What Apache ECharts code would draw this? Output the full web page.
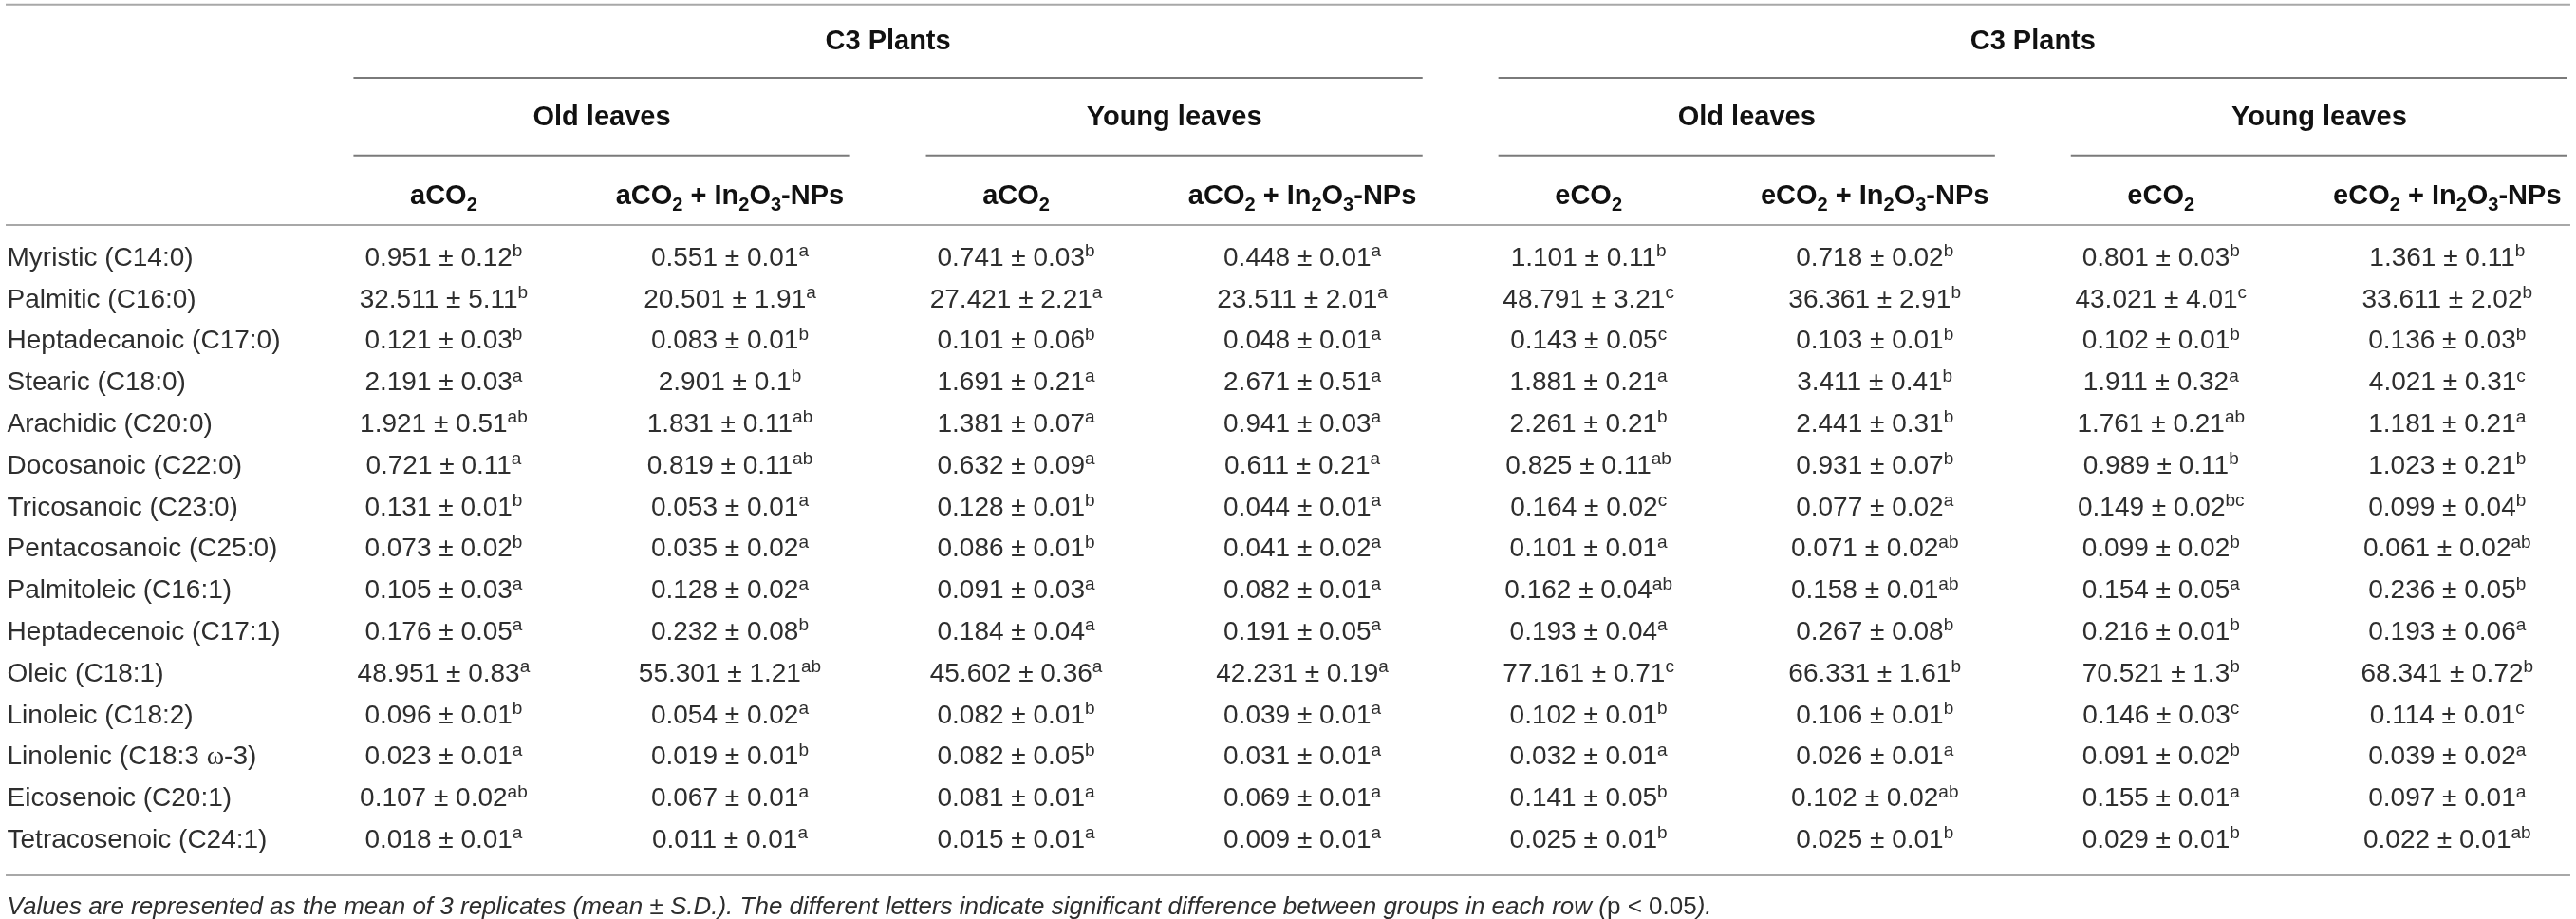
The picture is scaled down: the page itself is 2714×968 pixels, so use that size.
<!DOCTYPE html>
<html>
<head>
<meta charset="utf-8">
<script src="https://cdn.jsdelivr.net/npm/echarts@6/dist/echarts.min.js"></script>
<style>
  html, body { margin: 0; background: #fff; }
  #main { width: 2714px; height: 968px; }
</style>
</head>
<body>
<div id="main"></div>
<script>
const rowNames = [
  'Myristic (C14:0)', 'Palmitic (C16:0)', 'Heptadecanoic (C17:0)', 'Stearic (C18:0)',
  'Arachidic (C20:0)', 'Docosanoic (C22:0)', 'Tricosanoic (C23:0)', 'Pentacosanoic (C25:0)',
  'Palmitoleic (C16:1)', 'Heptadecenoic (C17:1)', 'Oleic (C18:1)', 'Linoleic (C18:2)',
  'Linolenic (C18:3 {w|ω}-3)', 'Eicosenoic (C20:1)', 'Tetracosenoic (C24:1)'
];
const colHeads = [
  'aCO2', 'aCO2 + In2O3-NPs', 'aCO2', 'aCO2 + In2O3-NPs',
  'eCO2', 'eCO2 + In2O3-NPs', 'eCO2', 'eCO2 + In2O3-NPs'
];
const plantGroups = ['C3 Plants', 'C3 Plants'];
const leafGroups = ['Old leaves', 'Young leaves', 'Old leaves', 'Young leaves'];
const footNote = 'Values are represented as the mean of 3 replicates (mean ± S.D.). The different letters indicate significant difference between groups in each row ({u|p} {u|<} {u|0.05}).';

// [mean, sd, letters]
const oldA = [
  [0.951, 0.12, 'b'], [32.511, 5.11, 'b'], [0.121, 0.03, 'b'], [2.191, 0.03, 'a'],
  [1.921, 0.51, 'ab'], [0.721, 0.11, 'a'], [0.131, 0.01, 'b'], [0.073, 0.02, 'b'],
  [0.105, 0.03, 'a'], [0.176, 0.05, 'a'], [48.951, 0.83, 'a'], [0.096, 0.01, 'b'],
  [0.023, 0.01, 'a'], [0.107, 0.02, 'ab'], [0.018, 0.01, 'a']
];
const oldANp = [
  [0.551, 0.01, 'a'], [20.501, 1.91, 'a'], [0.083, 0.01, 'b'], [2.901, 0.1, 'b'],
  [1.831, 0.11, 'ab'], [0.819, 0.11, 'ab'], [0.053, 0.01, 'a'], [0.035, 0.02, 'a'],
  [0.128, 0.02, 'a'], [0.232, 0.08, 'b'], [55.301, 1.21, 'ab'], [0.054, 0.02, 'a'],
  [0.019, 0.01, 'b'], [0.067, 0.01, 'a'], [0.011, 0.01, 'a']
];
const youngA = [
  [0.741, 0.03, 'b'], [27.421, 2.21, 'a'], [0.101, 0.06, 'b'], [1.691, 0.21, 'a'],
  [1.381, 0.07, 'a'], [0.632, 0.09, 'a'], [0.128, 0.01, 'b'], [0.086, 0.01, 'b'],
  [0.091, 0.03, 'a'], [0.184, 0.04, 'a'], [45.602, 0.36, 'a'], [0.082, 0.01, 'b'],
  [0.082, 0.05, 'b'], [0.081, 0.01, 'a'], [0.015, 0.01, 'a']
];
const youngANp = [
  [0.448, 0.01, 'a'], [23.511, 2.01, 'a'], [0.048, 0.01, 'a'], [2.671, 0.51, 'a'],
  [0.941, 0.03, 'a'], [0.611, 0.21, 'a'], [0.044, 0.01, 'a'], [0.041, 0.02, 'a'],
  [0.082, 0.01, 'a'], [0.191, 0.05, 'a'], [42.231, 0.19, 'a'], [0.039, 0.01, 'a'],
  [0.031, 0.01, 'a'], [0.069, 0.01, 'a'], [0.009, 0.01, 'a']
];
const oldE = [
  [1.101, 0.11, 'b'], [48.791, 3.21, 'c'], [0.143, 0.05, 'c'], [1.881, 0.21, 'a'],
  [2.261, 0.21, 'b'], [0.825, 0.11, 'ab'], [0.164, 0.02, 'c'], [0.101, 0.01, 'a'],
  [0.162, 0.04, 'ab'], [0.193, 0.04, 'a'], [77.161, 0.71, 'c'], [0.102, 0.01, 'b'],
  [0.032, 0.01, 'a'], [0.141, 0.05, 'b'], [0.025, 0.01, 'b']
];
const oldENp = [
  [0.718, 0.02, 'b'], [36.361, 2.91, 'b'], [0.103, 0.01, 'b'], [3.411, 0.41, 'b'],
  [2.441, 0.31, 'b'], [0.931, 0.07, 'b'], [0.077, 0.02, 'a'], [0.071, 0.02, 'ab'],
  [0.158, 0.01, 'ab'], [0.267, 0.08, 'b'], [66.331, 1.61, 'b'], [0.106, 0.01, 'b'],
  [0.026, 0.01, 'a'], [0.102, 0.02, 'ab'], [0.025, 0.01, 'b']
];
const youngE = [
  [0.801, 0.03, 'b'], [43.021, 4.01, 'c'], [0.102, 0.01, 'b'], [1.911, 0.32, 'a'],
  [1.761, 0.21, 'ab'], [0.989, 0.11, 'b'], [0.149, 0.02, 'bc'], [0.099, 0.02, 'b'],
  [0.154, 0.05, 'a'], [0.216, 0.01, 'b'], [70.521, 1.3, 'b'], [0.146, 0.03, 'c'],
  [0.091, 0.02, 'b'], [0.155, 0.01, 'a'], [0.029, 0.01, 'b']
];
const youngENp = [
  [1.361, 0.11, 'b'], [33.611, 2.02, 'b'], [0.136, 0.03, 'b'], [4.021, 0.31, 'c'],
  [1.181, 0.21, 'a'], [1.023, 0.21, 'b'], [0.099, 0.04, 'b'], [0.061, 0.02, 'ab'],
  [0.236, 0.05, 'b'], [0.193, 0.06, 'a'], [68.341, 0.72, 'b'], [0.114, 0.01, 'c'],
  [0.039, 0.02, 'a'], [0.097, 0.01, 'a'], [0.022, 0.01, 'ab']
];
const columns = [oldA, oldANp, youngA, youngANp, oldE, oldENp, youngE, youngENp];

// ---- layout (axis units: x = column index, y = row index) ----
const FONT = '"Liberation Sans", Arial, sans-serif';
const INK = '#2e2e2e';
const LABEL_X = -1.525;
const FULL_X = [-1.53, 7.43];
const PAD_L = 0.315, PAD_R = 0.42;
const Y_PLANT = -5.20, Y_LEAF = -3.38, Y_HEAD = -1.48, Y_FOOT = 15.62;
const LINE_TOP = -6.10, LINE_PLANT = -4.34, LINE_LEAF = -2.47, LINE_HEAD = -0.80, LINE_BOTTOM = 14.84;

function chem(s) {
  return s.replace(/([A-Za-z])(\d)/g, '$1{sub|$2}');
}
function cellText(v) {
  return v[0] + ' ± ' + v[1] + '{sup|' + v[2] + '}';
}

// text items
let cells = [];
columns.forEach((col, c) => {
  col.forEach((v, r) => cells.push({ x: c, y: r, text: cellText(v) }));
});
let labels = rowNames.map((name, r) => ({ x: LABEL_X, y: r, text: name }));
let heads = colHeads.map((h, c) => ({ x: c, y: Y_HEAD, text: chem(h) }));

let groupTexts = [];
let lines = [];
plantGroups.forEach((g, i) => {
  let a = i * 4 - PAD_L, b = i * 4 + 3 + PAD_R;
  groupTexts.push({ x: (a + b) / 2, y: Y_PLANT, text: g });
  lines.push([a, LINE_PLANT, b, 1]);
});
leafGroups.forEach((g, i) => {
  let a = i * 2 - PAD_L, b = i * 2 + 1 + PAD_R;
  groupTexts.push({ x: (a + b) / 2, y: Y_LEAF, text: g });
  lines.push([a, LINE_LEAF, b, 1]);
});
[LINE_TOP, LINE_HEAD, LINE_BOTTOM].forEach(y => lines.push([FULL_X[0], y, FULL_X[1], 0]));

function textSeries(items, style) {
  return {
    type: 'custom',
    silent: true,
    data: items.map(d => [d.x, d.y]),
    renderItem: function (params, api) {
      let p = api.coord([api.value(0), api.value(1)]);
      let item = items[params.dataIndex];
      return {
        type: 'text',
        x: p[0],
        y: p[1],
        style: Object.assign({ text: item.text, verticalAlign: 'middle' }, style)
      };
    }
  };
}

const plainStyle = {
  fontFamily: FONT, fontSize: 28, fill: INK, align: 'center', lineHeight: 33,
  rich: {
    sup: { fontFamily: FONT, fontSize: 19, fill: INK, verticalAlign: 'top', lineHeight: 19 }
  }
};
const labelStyle = {
  fontFamily: FONT, fontSize: 28, fill: INK, align: 'left', lineHeight: 33,
  rich: {
    w: { fontFamily: '"Liberation Serif", serif', fontSize: 28, fill: INK, lineHeight: 33 }
  }
};
const headStyle = {
  fontFamily: FONT, fontSize: 29, fontWeight: 'bold', fill: '#111', align: 'center', lineHeight: 38,
  rich: {
    sub: { fontFamily: FONT, fontSize: 20, fontWeight: 'bold', fill: '#111', verticalAlign: 'bottom', lineHeight: 20 }
  }
};
const groupStyle = {
  fontFamily: FONT, fontSize: 29, fontWeight: 'bold', fill: '#111', align: 'center'
};
const footStyle = {
  fontFamily: FONT, fontSize: 26, fontStyle: 'italic', fill: INK, align: 'left',
  rich: {
    u: { fontFamily: FONT, fontSize: 26, fill: INK }
  }
};

let chart = echarts.init(document.getElementById('main'), null, { renderer: 'canvas' });

let option = {
  animation: false,
  backgroundColor: '#fff',
  grid: { left: 0, right: 0, top: 0, bottom: 0 },
  xAxis: { type: 'value', min: -1.55, max: 7.45, show: false },
  yAxis: { type: 'value', min: -6.21, max: 15.89, inverse: true, show: false },
  series: [
    {
      type: 'custom',
      silent: true,
      data: lines,
      renderItem: function (params, api) {
        let p1 = api.coord([api.value(0), api.value(1)]);
        let p2 = api.coord([api.value(2), api.value(1)]);
        return {
          type: 'line',
          shape: { x1: p1[0], y1: p1[1], x2: p2[0], y2: p2[1] },
          style: { stroke: api.value(3) ? '#7a7a7a' : '#a8a8a8', lineWidth: 2 }
        };
      }
    },
    textSeries(groupTexts, groupStyle),
    textSeries(heads, headStyle),
    textSeries(labels, labelStyle),
    textSeries(cells, plainStyle),
    textSeries([{ x: LABEL_X, y: Y_FOOT, text: footNote }], footStyle)
  ]
};

chart.setOption(option);
window.addEventListener('resize', chart.resize);
</script>
</body>
</html>
